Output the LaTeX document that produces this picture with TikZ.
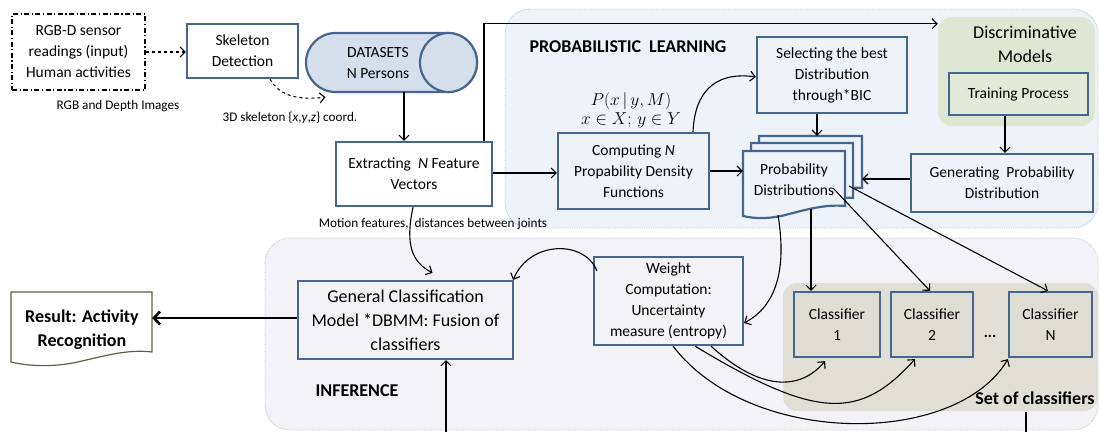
\documentclass[tikz,border=0pt]{standalone}
\usepackage{fontspec}
\setmainfont{Carlito}
\usetikzlibrary{arrows.meta,calc}

\definecolor{boxblue}{HTML}{46668F}
\definecolor{plfill}{HTML}{EDF3F9}
\definecolor{plline}{HTML}{B9C5D3}
\definecolor{inffill}{HTML}{F3F3F7}
\definecolor{setfill}{HTML}{E1DED6}
\definecolor{clsfill}{HTML}{DFDCD4}
\definecolor{discfill}{HTML}{DDE7D3}
\definecolor{trainfill}{HTML}{E3EADA}
\definecolor{dsfill}{HTML}{D5DFEC}
\definecolor{pdfill}{HTML}{EEF3F9}
\definecolor{docline}{HTML}{5E5E48}

\tikzset{
  box/.style={draw=boxblue, line width=2.2pt, inner sep=0pt, align=center,
    font=\fontsize{15.5}{21}\selectfont},
  bigbox/.style={box, font=\fontsize{18}{24}\selectfont},
  region/.style={draw=plline, densely dotted, line width=0.8pt},
  lbl/.style={inner sep=0pt, font=\fontsize{13.2}{15}\selectfont},
  heading/.style={inner sep=0pt, font=\fontsize{18}{20}\selectfont\bfseries},
  conn/.style={line width=1.1pt, -{Straight Barb[length=5pt,width=10pt]}},
  dconn/.style={conn, dashed},
  thickconn/.style={line width=2.6pt, -{Straight Barb[length=6pt,width=13pt]}},
  docshape/.style={draw=boxblue, line width=2.2pt, fill=pdfill},
}

\begin{document}
\begin{tikzpicture}[x=1pt,y=-1pt]
\useasboundingbox (0,0) rectangle (1100,432);

% ---------- background regions ----------
\draw[region, fill=plfill, rounded corners=25pt] (505,9) rectangle (1098,228);
\draw[region, fill=inffill, rounded corners=25pt] (265,238) rectangle (1098,430);
\node[draw=none, fill=discfill, rounded corners=14pt, minimum width=157pt,
      minimum height=109pt, inner sep=0pt] (disc) at (1016.5,71.5) {};
\node[draw=none, fill=setfill, rounded corners=14pt, minimum width=315pt,
      minimum height=128pt, inner sep=0pt] (set) at (940.5,347) {};

% ---------- headings ----------
\node[heading] (plhead) at (628,47) {PROBABILISTIC\ \ LEARNING};
\node[heading] (infhead) at (357,391) {INFERENCE};
\node[inner sep=0pt, align=center, font=\fontsize{18}{24}\selectfont] (dischead) at (1025,44) {Discriminative\\Models};
\node[inner sep=0pt, font=\fontsize{18}{20}\selectfont\bfseries] (sethead) at (1035,398) {Set of classifiers};

% ---------- acquisition ----------
\node[box, draw=black, line width=1.2pt, dash pattern=on 5pt off 2.5pt on 1.2pt off 2.5pt,
      minimum width=133pt, minimum height=76pt] (inp) at (78.5,52)
      {RGB-D sensor\\readings (input)\\Human activities};
\node[lbl] (rgblbl) at (118,106) {RGB and Depth Images};
\node[box, minimum width=111pt, minimum height=54pt] (skel) at (242.5,51) {Skeleton\\Detection};
\node[lbl] (skellbl) at (290,118) {3D skeleton \{\textit{x},\textit{y},\textit{z}\} coord.};

% datasets cylinder
\node[inner sep=0pt, minimum width=171pt, minimum height=59pt] (ds) at (391.5,62.5) {};
\draw[boxblue, line width=2.2pt, fill=dsfill, rounded corners=29.5pt] (306,33) rectangle (477,92);
\draw[boxblue, line width=2.2pt, fill=dsfill] (448.5,62.5) ellipse (28.5pt and 29.5pt);
\node[inner sep=0pt, align=center, font=\fontsize{15.5}{21}\selectfont] (dstext) at (378,63) {DATASETS\\N Persons};

\node[box, minimum width=156pt, minimum height=64pt] (ext) at (414,174)
      {Extracting\ \ \textit{N} Feature\\Vectors};
\node[lbl] (motlbl) at (433,224) {Motion features,\ \ distances between joints};

% ---------- probabilistic learning ----------
\node[inner sep=0pt, align=center, font=\fontsize{16}{19}\selectfont] (pdf) at (631,110)
      {$P(x\,|\,y,M)$\\$x\in X;\,y\in Y$};
\node[box, minimum width=151pt, minimum height=76pt] (comp) at (633.5,171)
      {Computing \textit{N}\\Propability Density\\Functions};
\node[box, minimum width=150pt, minimum height=76pt] (sel) at (832,75)
      {Selecting the best\\Distribution\\through*BIC};

% stacked probability distributions
\node[inner sep=0pt, minimum width=103pt, minimum height=54pt] (pdb) at (810.5,163) {};
\draw[docshape] (759,136) -- (862,136) -- (862,188) .. controls (840,186) and (820,192) .. (805,196)
      .. controls (790,200) and (772,199) .. (759,197) -- cycle;
\draw[docshape] (751,143) -- (853,143) -- (853,198) .. controls (832,196) and (812,202) .. (797,206)
      .. controls (782,210) and (764,209) .. (751,207) -- cycle;
\draw[docshape] (743,151) -- (845,151) -- (845,206) .. controls (825,204) and (805,210) .. (789,214)
      .. controls (772,219) and (755,219) .. (743,216) -- cycle;
\node[inner sep=0pt, minimum width=102pt, minimum height=58pt, align=center,
      font=\fontsize{15.5}{21}\selectfont] (pd) at (794,180) {Probability\\Distributions};

\node[box, fill=trainfill, minimum width=139pt, minimum height=42pt] (train) at (1018.5,94) {Training Process};
\node[box, minimum width=182pt, minimum height=58pt] (gendist) at (1002,183)
      {Generating\ \ Probability\\Distribution};

% ---------- inference ----------
\node[bigbox, minimum width=215pt, minimum height=78pt] (gen) at (405.5,320)
      {General Classification\\Model *DBMM: Fusion of\\classifiers};
\node[box, minimum width=149pt, minimum height=88pt] (wgt) at (668.5,301)
      {Weight\\Computation:\\Uncertainty\\measure (entropy)};
\node[box, fill=clsfill, minimum width=86pt, minimum height=65pt] (c1) at (837,324.5) {Classifier\\1};
\node[box, fill=clsfill, minimum width=82pt, minimum height=65pt] (c2) at (932,324.5) {Classifier\\2};
\node[box, fill=clsfill, minimum width=83pt, minimum height=65pt] (cn) at (1050.5,324.5) {Classifier\\N};
\node[inner sep=0pt, font=\fontsize{15.5}{21}\selectfont] (dots) at (990,336) {\textbf{...}};

% result document
\node[inner sep=0pt, minimum width=141pt, minimum height=60pt] (res) at (81.5,322) {};
\draw[docline, line width=1.2pt, fill=white] (11,292) -- (152,292) -- (152,352)
      .. controls (128,349) and (104,356) .. (82,361) .. controls (58,367) and (32,367) .. (11,362) -- cycle;
\node[inner sep=0pt, align=center, font=\fontsize{18}{24}\selectfont\bfseries] (restext) at (82,330)
      {Result: Activity\\Recognition};

% free ends below the picture
\coordinate (belowgen) at (446,432);
\coordinate (setfoot) at (1026,412);
\coordinate (setout) at (1026,432);

% ---------- connectors ----------
\draw[dconn] (inp.east) -- (inp.east -| skel.west);
\draw[dconn] ([xshift=27.5pt]skel.south) .. controls (280,97) and (300,100) .. ([xshift=-66pt,yshift=-5pt]ds.south);
\draw[conn] ([xshift=12.5pt]ds.south) -- ([xshift=12.5pt]ds.south |- ext.north);
\draw[conn] ([yshift=1pt]ext.east) -- ([yshift=1pt]ext.east -| comp.west);
\draw[conn] ([xshift=70pt]ext.north) |- ([yshift=-7pt]disc.north west);
\draw[conn] ([xshift=59.5pt]comp.north) .. controls (695,85) and (722,72) .. ([yshift=-2pt]sel.west);
\draw[conn] ([xshift=-15pt]sel.south) -- ([xshift=-15pt]sel.south |- pdb.north);
\draw[conn] (comp.east) -- (comp.east -| pd.west);
\draw[conn] ([xshift=-13.5pt]train.south) -- ([xshift=-13.5pt]train.south |- gendist.north);
\draw[conn] ([yshift=4pt]gendist.west) -- ([yshift=4pt]gendist.west -| pdb.east);

\draw[conn] ([xshift=17pt]pd.south) -- ([xshift=17pt]pd.south |- c1.north);
\draw[conn] (833,188) -- ([xshift=-2pt]c2.north);
\draw[conn] (849,186) -- ([xshift=-2.5pt]cn.north);
\draw[conn] ([xshift=-16pt,yshift=-6pt]pd.south) .. controls (787,270) and (776,306) .. ([yshift=-22pt]wgt.east);

\draw[conn] ([xshift=-1pt]ext.south) .. controls (405,245) and (412,262) .. ([xshift=27pt,yshift=7pt]gen.north);
\draw[conn] ([xshift=4pt,yshift=-15pt]wgt.north west) .. controls (585,240) and (530,240) .. ([xshift=-1pt]gen.north east);
\draw[thickconn] ([yshift=2pt]gen.west) -- ([yshift=2pt]gen.west -| res.east);
\draw[conn] (belowgen) -- (belowgen |- gen.south);
\draw[line width=1.1pt] (setfoot) -- (setout);

\draw[conn] ([xshift=42.5pt]wgt.south) .. controls (760,391) and (800,391) .. ([xshift=-12pt,yshift=-3pt]c1.south);
\draw[conn] ([xshift=26.5pt]wgt.south) .. controls (817,420) and (860,420) .. ([xshift=-17pt,yshift=-1pt]c2.south);
\draw[conn] ([xshift=4.5pt]wgt.south) .. controls (750,447) and (956,447) .. ([xshift=0pt,yshift=-1pt]cn.south west);
\end{tikzpicture}
\end{document}
